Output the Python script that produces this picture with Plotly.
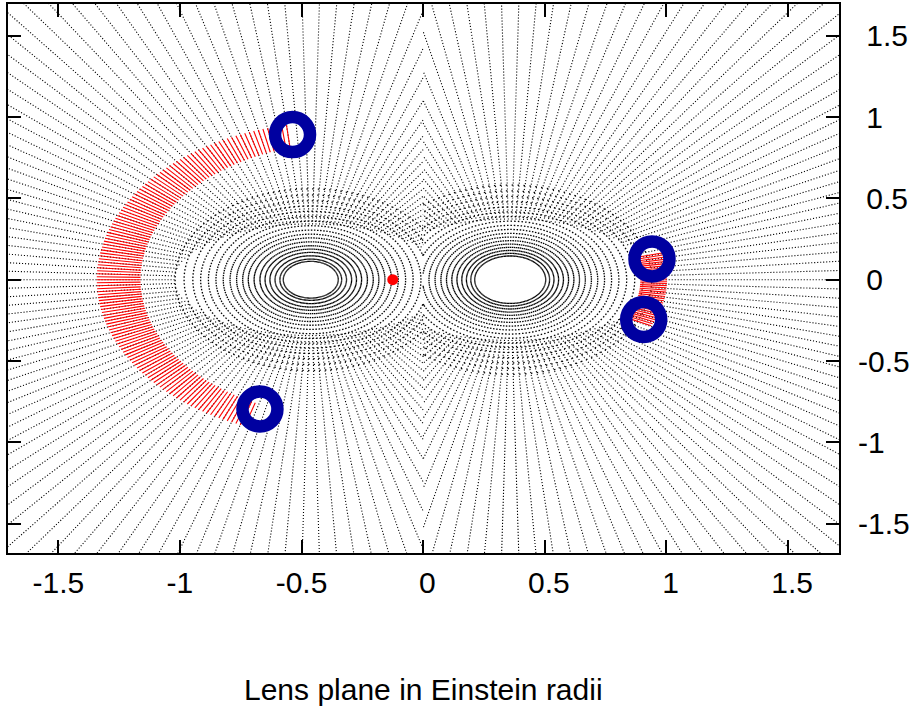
import numpy as np
import plotly.graph_objects as go

# --- lens geometry (Einstein radii) ---------------------------------------
lens_x = [-0.462, 0.358]          # the two point lenses on the x axis
seam_x = 0.0                      # boundary between the two polar ray grids

# ring radii of the polar ray grid around each lens
rings_left = [0.113, 0.127, 0.147, 0.168, 0.188, 0.209, 0.233, 0.257, 0.280,
              0.305, 0.332, 0.360, 0.390, 0.421, 0.453, 0.485, 0.521, 0.558]
rings_right = [0.146, 0.162, 0.180, 0.199, 0.219, 0.240, 0.262, 0.285, 0.309,
               0.334, 0.360, 0.388, 0.417, 0.447, 0.479, 0.512, 0.546, 0.582]
n_spokes = 150                    # radial rays per lens
# semi-axes (x, y) of the zone where the dotted rays start, per lens
spoke_start_left = [0.56, 0.34]
spoke_start_right = [0.59, 0.37]

# rays hitting the extended source (red), finer angular spacing
arc_step_deg = 1.2
left_arc_deg = [96.0, 254.0]
left_arc_inner = [-0.32, 0.0, 0.842]    # bounding circle: cx, cy, R
left_arc_outer = [-0.372, 0.0, 0.970]
right_arc_deg = [-26.0, 15.0]
right_arc_r = [0.535, 0.645]

# source position and point-source image positions
source_x = [-0.125]
source_y = [0.0]
image_x = [-0.537, -0.671, 0.941, 0.907]
image_y = [0.892, -0.795, 0.128, -0.245]

# axis ticks
tick_vals = [-1.5, -1.0, -0.5, 0.0, 0.5, 1.0, 1.5]
tick_text = ["-1.5", "-1", "-0.5", "\u00a00", "\u00a00.5", "\u00a01", "\u00a01.5"]
x_range = [-1.707, 1.710]
y_range = [-1.680, 1.695]

R_FAR = 3.5


def clip(p0, p1, side):
    """Clip a segment to the half-plane belonging to one lens."""
    def inside(p):
        return (p[0] <= seam_x) if side < 0 else (p[0] >= seam_x)
    a, b = inside(p0), inside(p1)
    if a and b:
        return p0, p1
    if not a and not b:
        return None
    t = (seam_x - p0[0]) / (p1[0] - p0[0])
    q = (seam_x, p0[1] + t * (p1[1] - p0[1]))
    return (p0, q) if a else (q, p1)


def add_seg(xs, ys, p0, p1, side):
    seg = clip(p0, p1, side)
    if seg is None:
        return
    xs.extend([seg[0][0], seg[1][0], None])
    ys.extend([seg[0][1], seg[1][1], None])


# rings: one sub-path per cell edge, so each edge starts with a dash
ring_x, ring_y = [], []
# spokes: one long dotted ray per angle, starting outside the ring zone
spoke_x, spoke_y = [], []
for lx, rings, (ax, ay), side in [(lens_x[0], rings_left, spoke_start_left, -1),
                                  (lens_x[1], rings_right, spoke_start_right, 1)]:
    ang = np.arange(n_spokes + 1) * 2 * np.pi / n_spokes
    for r in rings:
        for j in range(n_spokes):
            p0 = (lx + r * np.cos(ang[j]), r * np.sin(ang[j]))
            p1 = (lx + r * np.cos(ang[j + 1]), r * np.sin(ang[j + 1]))
            add_seg(ring_x, ring_y, p0, p1, side)
    for a in ang[:-1]:
        c, s = np.cos(a), np.sin(a)
        r0 = 1.0 / np.sqrt((c / ax) ** 2 + (s / ay) ** 2)
        add_seg(spoke_x, spoke_y, (lx + r0 * c, r0 * s), (lx + R_FAR * c, R_FAR * s), side)


def ray_circle(lx, c, s, circ):
    cx, cy, R = circ
    b = c * (lx - cx) - s * cy
    k = (lx - cx) ** 2 + cy ** 2 - R ** 2
    return -b + np.sqrt(b * b - k)


rx, ry = [], []
for deg in np.arange(left_arc_deg[0], left_arc_deg[1] + 1e-9, arc_step_deg):
    a = np.radians(deg)
    c, s = np.cos(a), np.sin(a)
    r0 = ray_circle(lens_x[0], c, s, left_arc_inner)
    r1 = ray_circle(lens_x[0], c, s, left_arc_outer)
    rx.extend([lens_x[0] + r0 * c, lens_x[0] + r1 * c, None])
    ry.extend([r0 * s, r1 * s, None])
for deg in np.arange(right_arc_deg[0], right_arc_deg[1] + 1e-9, arc_step_deg):
    a = np.radians(deg)
    c, s = np.cos(a), np.sin(a)
    r0, r1 = right_arc_r
    rx.extend([lens_x[1] + r0 * c, lens_x[1] + r1 * c, None])
    ry.extend([r0 * s, r1 * s, None])

fig = go.Figure()
fig.add_trace(go.Scatter(x=spoke_x, y=spoke_y, mode="lines", hoverinfo="skip",
                         line=dict(color="black", width=1.1, dash="1.1px,1.9px")))
fig.add_trace(go.Scatter(x=ring_x, y=ring_y, mode="lines", hoverinfo="skip",
                         line=dict(color="black", width=1.3, dash="1.5px,30px")))
fig.add_trace(go.Scatter(x=rx, y=ry, mode="lines", hoverinfo="skip",
                         line=dict(color="#ff0000", width=1.1)))
fig.add_trace(go.Scatter(x=source_x, y=source_y, mode="markers",
                         marker=dict(symbol="circle", size=11, color="#ff0000")))
fig.add_trace(go.Scatter(x=image_x, y=image_y, mode="markers",
                         marker=dict(symbol="circle-open", size=35, color="#0000a0",
                                     line=dict(width=12.5, color="#0000a0"))))

font = dict(family="Liberation Sans, Arial, Helvetica, sans-serif", size=30, color="black")
axis_common = dict(showgrid=False, zeroline=False, showline=True, linewidth=2,
                   linecolor="black", mirror="allticks", ticks="inside", ticklen=13,
                   tickwidth=1.5, tickcolor="black", tickvals=tick_vals,
                   ticktext=tick_text, tickfont=font)

fig.update_layout(
    width=912, height=708,
    margin=dict(l=8, r=73, t=2, b=155),
    paper_bgcolor="white", plot_bgcolor="white",
    showlegend=False,
    xaxis=dict(range=x_range, ticklabelstandoff=2, **axis_common),
    yaxis=dict(range=y_range, side="right", ticklabelstandoff=11, **axis_common),
    annotations=[dict(text="Lens plane in Einstein radii", x=0.5, y=-0.2486,
                      xref="paper", yref="paper", xanchor="center", yanchor="middle",
                      showarrow=False, font=font)],
)

fig.write_html("out.html")
